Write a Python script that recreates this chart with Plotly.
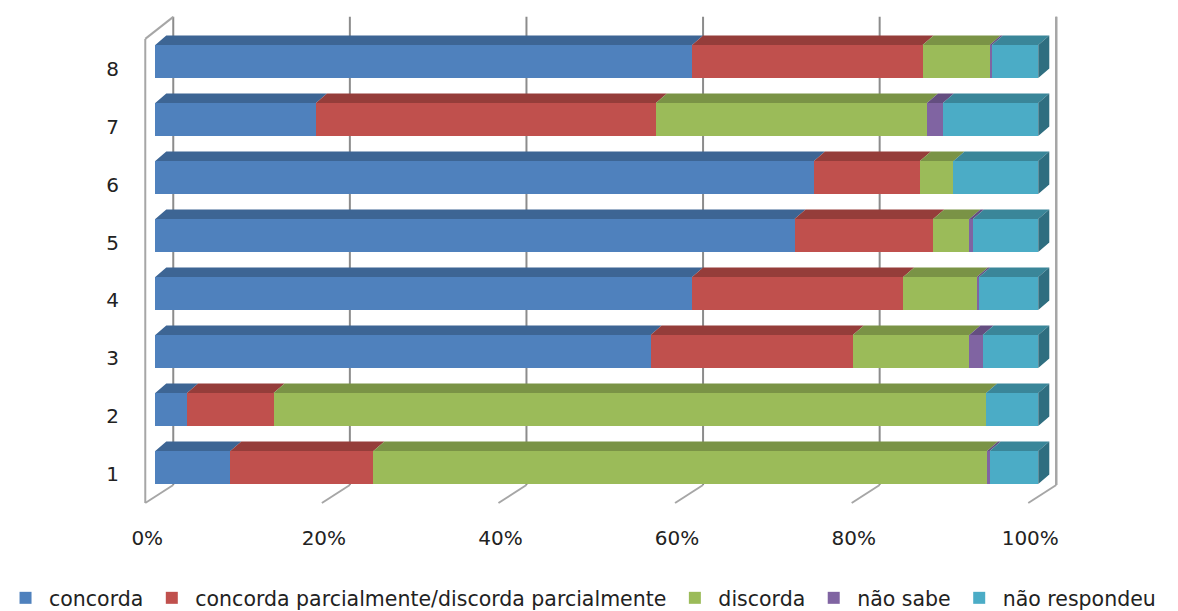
import plotly.graph_objects as go

# ---------------- data ----------------
rows = [1, 2, 3, 4, 5, 6, 7, 8]
row_labels = ["1", "2", "3", "4", "5", "6", "7", "8"]
series_names = ["concorda", "concorda parcialmente/discorda parcialmente",
                "discorda", "não sabe", "não respondeu"]
concorda = [8.5, 3.6, 56.1, 60.8, 72.4, 74.6, 18.2, 60.8]
concorda_parcial = [16.2, 9.8, 22.9, 23.9, 15.7, 12.0, 38.5, 26.1]
discorda = [69.5, 80.7, 13.2, 8.35, 4.1, 3.8, 30.7, 7.6]
nao_sabe = [0.3, 0.0, 1.5, 0.25, 0.4, 0.0, 1.8, 0.25]
nao_respondeu = [5.5, 5.9, 6.3, 6.7, 7.4, 9.6, 10.8, 5.25]
x_ticks = [0, 20, 40, 60, 80, 100]
x_tick_labels = ["0%", "20%", "40%", "60%", "80%", "100%"]

# ---------------- styles ----------------
front_colors = ["#4F81BD", "#C0504D", "#9BBB59", "#8064A2", "#4BACC6"]
top_colors = ["#3D6594", "#953D3A", "#7A9346", "#644E80", "#3A8699"]
side_color = "#2F6E80"
BAR_W = 0.57
DDX, DDY = 1.25, 0.165          # bar depth (data units)
WALL_FRONT_DX = -1.13           # wall front plane offset
WALL_BACK_DX = 2.04             # wall back plane offset
Y_FLOOR_FRONT, Y_FLOOR_BACK = 0.388, 0.698
Y_TOP_FRONT, Y_TOP_BACK = 8.39, 8.77
FONT = "DejaVu Sans"

series = [concorda, concorda_parcial, discorda, nao_sabe, nao_respondeu]

fig = go.Figure()

# front faces
for name, vals, col in zip(series_names, series, front_colors):
    fig.add_trace(go.Bar(
        y=rows, x=vals, name=name, orientation="h", width=BAR_W,
        marker=dict(color=col, line=dict(width=0)),
        hoverinfo="x+name",
    ))

# top faces (derived from cumulative sums)
cum = [0.0] * len(rows)
for si, (vals, col) in enumerate(zip(series, top_colors)):
    xs, ys = [], []
    for i, r in enumerate(rows):
        x0 = cum[i]
        x1 = cum[i] + vals[i]
        yt = r + BAR_W / 2
        if vals[i] > 0:
            xs += [x0, x1, x1 + DDX, x0 + DDX, x0, None]
            ys += [yt, yt, yt + DDY, yt + DDY, yt, None]
        cum[i] = x1
    fig.add_trace(go.Scatter(
        x=xs, y=ys, mode="lines", fill="toself", fillcolor=col,
        line=dict(width=0, color=col), showlegend=False, hoverinfo="skip",
    ))

# right end faces
xs, ys = [], []
for i, r in enumerate(rows):
    xe = cum[i]
    yt = r + BAR_W / 2
    yb = r - BAR_W / 2
    xs += [xe, xe, xe + DDX, xe + DDX, xe, None]
    ys += [yb, yt, yt + DDY, yb + DDY, yb, None]
fig.add_trace(go.Scatter(
    x=xs, y=ys, mode="lines", fill="toself", fillcolor=side_color,
    line=dict(width=0, color=side_color), showlegend=False, hoverinfo="skip",
))

# back wall gridlines + floor diagonals
shapes = []
for v in x_ticks:
    shapes.append(dict(type="line", xref="x", yref="y", layer="below",
                       x0=v + WALL_BACK_DX, x1=v + WALL_BACK_DX,
                       y0=Y_FLOOR_BACK, y1=Y_TOP_BACK,
                       line=dict(color="#8C8C8C", width=2)))
    shapes.append(dict(type="line", xref="x", yref="y", layer="below",
                       x0=v + WALL_FRONT_DX, x1=v + WALL_BACK_DX,
                       y0=Y_FLOOR_FRONT, y1=Y_FLOOR_BACK,
                       line=dict(color="#A6A6A6", width=2)))
# left side wall
shapes.append(dict(type="line", xref="x", yref="y", layer="below",
                   x0=WALL_FRONT_DX, x1=WALL_FRONT_DX,
                   y0=Y_FLOOR_FRONT, y1=Y_TOP_FRONT,
                   line=dict(color="#A6A6A6", width=2)))
shapes.append(dict(type="line", xref="x", yref="y", layer="below",
                   x0=WALL_FRONT_DX, x1=WALL_BACK_DX,
                   y0=Y_TOP_FRONT, y1=Y_TOP_BACK,
                   line=dict(color="#A6A6A6", width=2)))
# right wall edge
shapes.append(dict(type="line", xref="x", yref="y", layer="below",
                   x0=100 + WALL_BACK_DX, x1=100 + WALL_BACK_DX,
                   y0=Y_FLOOR_BACK, y1=Y_TOP_BACK,
                   line=dict(color="#A6A6A6", width=2)))

X_MAX = (1178 - 155.25) / 8.83   # plot area extends to right edge of page

fig.update_layout(
    width=1178, height=611,
    barmode="stack",
    plot_bgcolor="rgba(0,0,0,0)", paper_bgcolor="white",
    margin=dict(l=142, r=0, t=10, b=101, autoexpand=False),
    font=dict(family=FONT, size=20, color="#222222"),
    shapes=shapes,
    showlegend=True,
    legend=dict(orientation="h", xref="paper", yref="paper",
                x=-0.1351, xanchor="left", y=-0.176, yanchor="middle",
                traceorder="normal", bgcolor="rgba(0,0,0,0)",
                font=dict(family=FONT, size=20.5, color="#222222"),
                itemwidth=37, tracegroupgap=0),
    xaxis=dict(range=[-1.5, X_MAX], tickvals=x_ticks, ticktext=x_tick_labels,
               showgrid=False, zeroline=False, showline=False,
               ticks="", ticklabelstandoff=14, ticklabelshift=-8,
               tickfont=dict(size=20)),
    yaxis=dict(range=[0.267, 8.888], tickvals=rows, ticktext=row_labels,
               showgrid=False, zeroline=False, showline=False,
               ticks="", ticklabelstandoff=22, ticklabelshift=7,
               tickfont=dict(size=20)),
)

fig.write_html("out.html")
